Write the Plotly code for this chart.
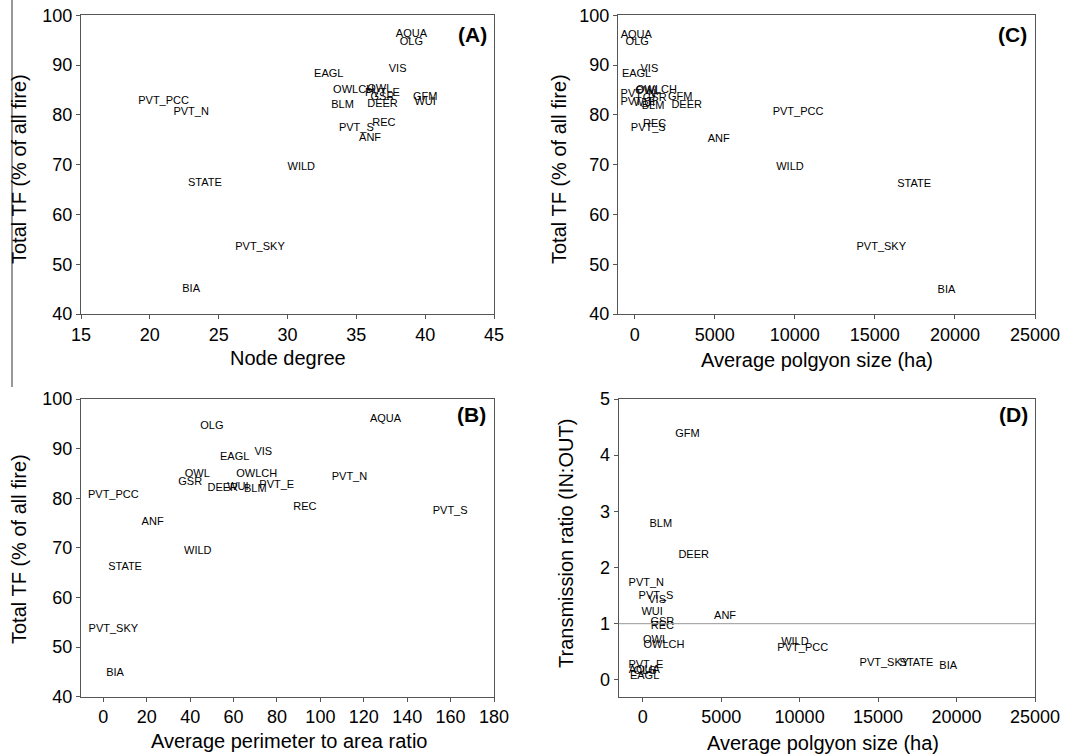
import plotly.graph_objects as go

W, H = 1075, 756

sites = ["AQUA", "OLG", "VIS", "EAGL", "OWLCH", "OWL", "PVT_E", "GSR", "DEER", "GFM",
         "WUI", "BLM", "PVT_S", "REC", "ANF", "WILD", "STATE", "PVT_SKY", "BIA",
         "PVT_PCC", "PVT_N"]

# Panel A: node degree vs total TF (as labelled in panel A)
node_degree = [39.0, 39.0, 38.0, 33.0, 34.8, 36.7, 36.9, 36.9, 36.9, 40.0,
               40.0, 34.0, 35.0, 37.0, 36.0, 31.0, 24.0, 28.0, 23.0, 21.0, 23.0]
tf_a = [96.2, 94.5, 89.2, 88.2, 85.0, 85.1, 84.4, 83.6, 82.1, 83.6,
        82.5, 81.9, 77.4, 78.3, 75.3, 69.4, 66.2, 53.5, 44.9, 82.8, 80.6]

# Total TF (% of all fire) used in panels B and C
tf = [96.0, 94.6, 89.2, 88.2, 84.9, 84.8, 82.6, 83.3, 82.0, 83.6,
      82.3, 81.8, 77.3, 78.2, 75.1, 69.4, 66.1, 53.5, 44.8, 80.6, 84.2]

# Panel B: average perimeter to area ratio (GFM not shown)
perim_area = [130, 50, 73.7, 60.5, 70.7, 43.3, 79.9, 40, 55, None,
              62, 70, 159.8, 92.9, 22.7, 43.5, 10, 4.6, 5.4, 4.6, 113.4]

# Panels C and D: average polygon size (ha)
poly_size = [100, 160, 920, 120, 1360, 820, 200, 1250, 3250, 2850,
             600, 1150, 850, 1250, 5250, 9700, 17450, 15400, 19470, 10200, 230]

# Panel D: transmission ratio (IN:OUT)
trans_ratio = [0.17, 0.15, 1.41, 0.07, 0.61, 0.71, 0.26, 1.02, 2.21, 4.38,
               1.20, 2.77, 1.48, 0.95, 1.14, 0.67, 0.30, 0.30, 0.25, 0.56, 1.72]

FONT = "Liberation Sans, Arial, sans-serif"
lab_font = dict(family=FONT, size=11, color="black")


def px_x(p):
    return p / W


def px_y(p):
    return 1 - p / H


fig = go.Figure()


def add_labels(xs, ys, xa, ya):
    xx, yy, tt = [], [], []
    for s, a, b in zip(sites, xs, ys):
        if a is None or b is None:
            continue
        xx.append(a)
        yy.append(b)
        tt.append(s)
    fig.add_trace(go.Scatter(x=xx, y=yy, text=tt, mode="text",
                             textposition="middle center", textfont=lab_font,
                             xaxis=xa, yaxis=ya, showlegend=False,
                             hoverinfo="text"))


add_labels(node_degree, tf_a, "x", "y")
add_labels(poly_size, tf, "x2", "y2")
add_labels(perim_area, tf, "x3", "y3")
add_labels(poly_size, trans_ratio, "x4", "y4")

axis_common = dict(showline=True, mirror=True, linecolor="#555", linewidth=1,
                   ticks="outside", ticklen=4, tickcolor="#555",
                   showgrid=False, zeroline=False,
                   tickfont=dict(family=FONT, size=18, color="black"),
                   automargin=False)

dom_left = [px_x(81), px_x(494)]
dom_right = [px_x(618), px_x(1035)]
dom_top = [px_y(314), px_y(15.3)]
dom_bot = [px_y(696.7), px_y(399)]

fig.update_layout(
    width=W, height=H, margin=dict(l=0, r=0, t=0, b=0),
    paper_bgcolor="white", plot_bgcolor="white", showlegend=False,
    xaxis=dict(domain=dom_left, range=[15, 45], dtick=5, anchor="y", **axis_common),
    yaxis=dict(domain=dom_top, range=[40, 100], dtick=10, anchor="x", **axis_common),
    xaxis2=dict(domain=dom_right, range=[-1040, 25000], dtick=5000, tick0=0, tickformat="d",
                anchor="y2", **axis_common),
    yaxis2=dict(domain=dom_top, range=[40, 100], dtick=10, anchor="x2", **axis_common),
    xaxis3=dict(domain=dom_left, range=[-10.3, 180], dtick=20, tick0=0, anchor="y3", **axis_common),
    yaxis3=dict(domain=dom_bot, range=[40, 100], dtick=10, anchor="x3", **axis_common),
    xaxis4=dict(domain=[px_x(618.7), px_x(1035)], range=[-1530, 25000], dtick=5000, tick0=0,
                tickformat="d", anchor="y4", **axis_common),
    yaxis4=dict(domain=dom_bot, range=[-0.3, 5], dtick=1, tick0=0, anchor="x4", **axis_common),
)

# reference line at ratio = 1 in panel D
fig.add_shape(type="line", xref="x4 domain", yref="y4", x0=0, x1=1, y0=1, y1=1,
              line=dict(color="#999", width=1))
# thin vertical rule at the far left of the top row
fig.add_shape(type="line", xref="paper", yref="paper", x0=px_x(12), x1=px_x(12),
              y0=1, y1=px_y(387), line=dict(color="#333", width=1))

title_font = dict(family=FONT, size=20, color="black")
ann = []
# x-axis titles
for txt, cx, cy in [("Node degree", 288, 358),
                    ("Average polgyon size (ha)", 817, 360),
                    ("Average perimeter to area ratio", 289, 741),
                    ("Average polgyon size (ha)", 823, 743)]:
    ann.append(dict(text=txt, x=px_x(cx), y=px_y(cy), xref="paper", yref="paper",
                    showarrow=False, font=title_font, xanchor="center", yanchor="middle"))
# y-axis titles
for txt, cx, cy in [("Total TF (% of all fire)", 19, 169),
                    ("Total TF (% of all fire)", 559, 169),
                    ("Total TF (% of all fire)", 19, 549),
                    ("Transmission ratio (IN:OUT)", 566, 544)]:
    ann.append(dict(text=txt, x=px_x(cx), y=px_y(cy), xref="paper", yref="paper",
                    showarrow=False, font=title_font, textangle=-90,
                    xanchor="center", yanchor="middle"))
# panel letters
for txt, cx, cy in [("(A)", 472, 34), ("(C)", 1012, 34), ("(B)", 471, 414), ("(D)", 1013, 414)]:
    ann.append(dict(text="<b>" + txt + "</b>", x=px_x(cx), y=px_y(cy), xref="paper", yref="paper",
                    showarrow=False, font=dict(family=FONT, size=21, color="black"),
                    xanchor="center", yanchor="middle"))
fig.update_layout(annotations=ann)

fig.write_html("out.html", config={"displayModeBar": False},
               post_script="document.body.style.margin='0';document.body.style.overflow='hidden';")
